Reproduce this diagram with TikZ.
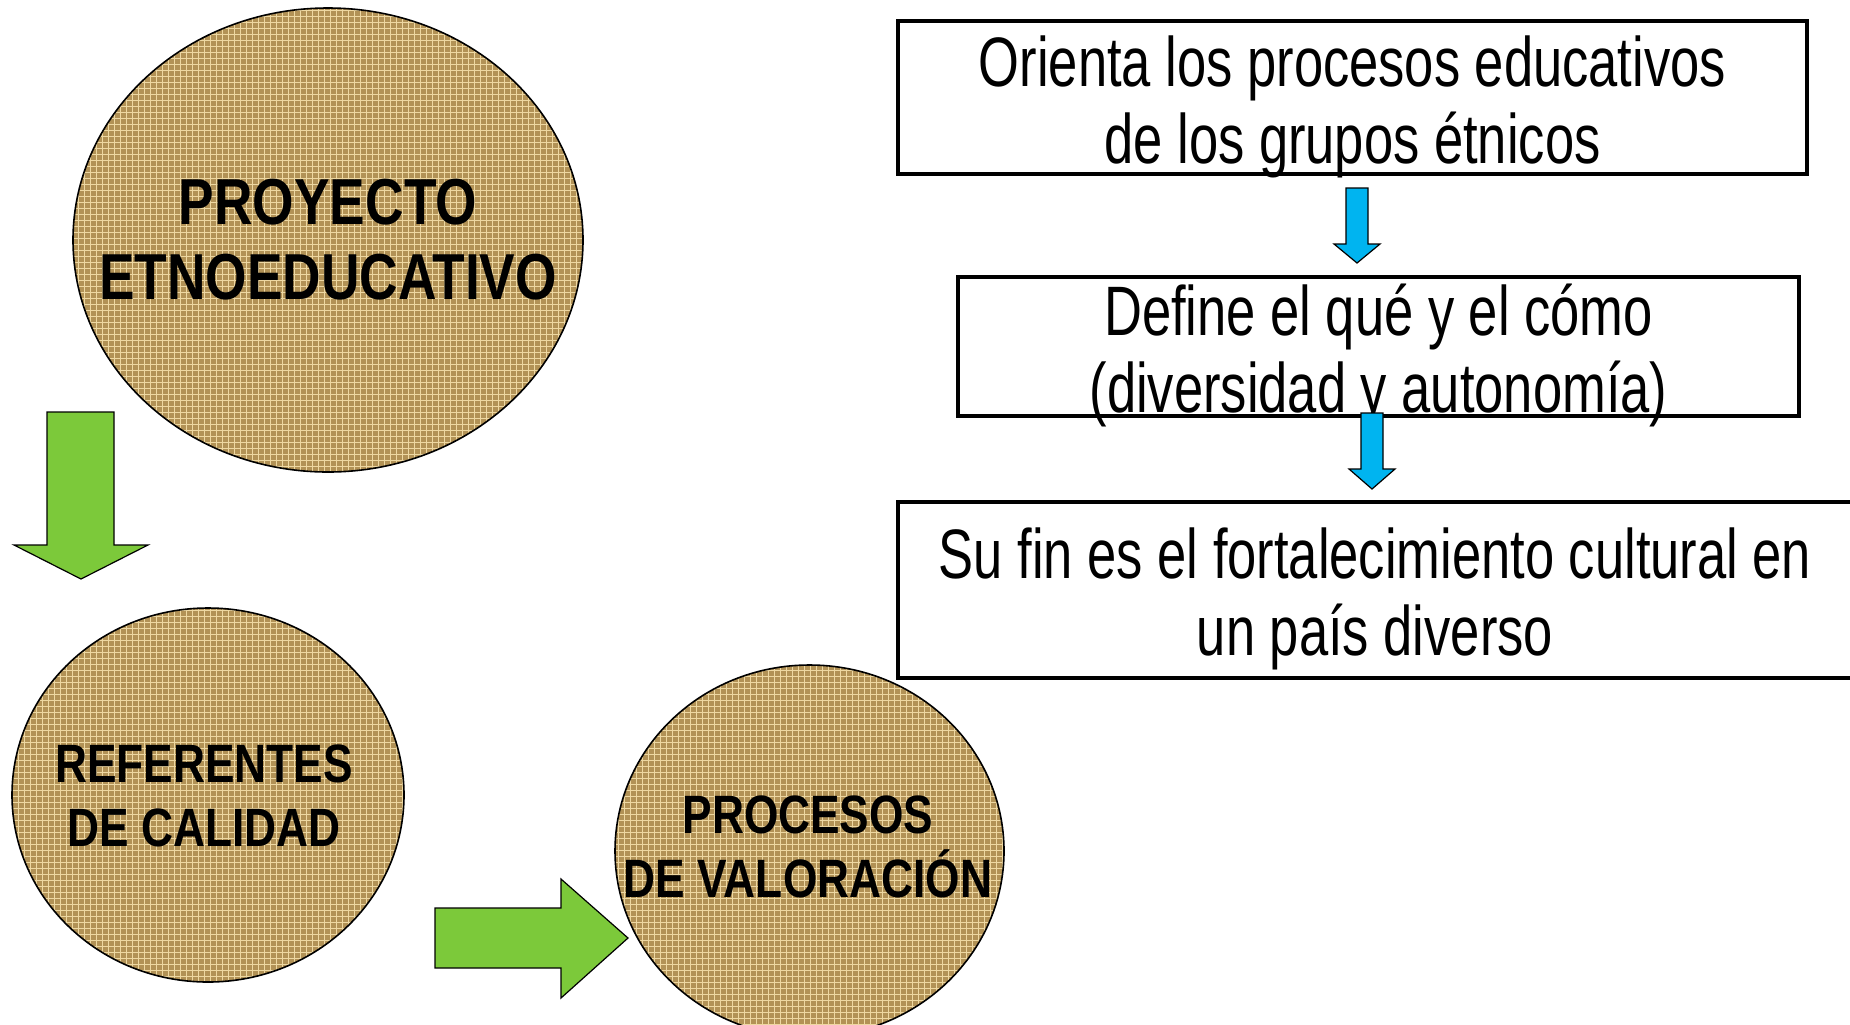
\documentclass[tikz,border=0pt]{standalone}
\usepackage{fontspec}
\setmainfont{Liberation Sans}[FakeStretch=0.82]
\newfontfamily\boxfont{Liberation Sans}[FakeStretch=0.75]
\usepackage{xcolor}
\usetikzlibrary{shapes.geometric, patterns}

\definecolor{burlap}{RGB}{178,146,86}
\definecolor{burlaplight}{RGB}{238,216,162}
\definecolor{arrowgreen}{RGB}{124,201,58}
\definecolor{arrowblue}{RGB}{0,180,240}

\begin{document}
\begin{tikzpicture}[
    x=0.5pt, y=-0.5pt,
    fabric/.style={draw, ellipse, line width=0.8pt, inner sep=0pt,
        preaction={fill=burlap}, pattern=grid, pattern color=burlaplight},
    fabrictext/.style={align=center, inner sep=0pt, font=\bfseries\fontsize{27}{32}\selectfont},
    textbox/.style={draw, line width=1.7pt, inner sep=0pt},
    boxtext/.style={align=center, inner sep=0pt, yshift=-4.5pt, font=\boxfont\fontsize{35}{38.5}\selectfont},
    greenarrow/.style={draw, line width=0.6pt, fill=arrowgreen},
    bluearrow/.style={draw, line width=0.6pt, fill=arrowblue}
]
\useasboundingbox (0,0) rectangle (1850,1024);

% circles
\node[fabric, minimum width=255pt, minimum height=232pt] (proyecto) at (328,240) {};
\node[fabrictext, font=\bfseries\fontsize{32.5}{37.5}\selectfont] (proyectotext) at (proyecto) {PROYECTO\\ETNOEDUCATIVO};
\node[fabric, minimum width=196pt, minimum height=187pt] (referentes) at (208,795) {};
\node[fabrictext] (referentestext) at (204,796) {REFERENTES\\DE CALIDAD};
\node[fabric, minimum width=194.5pt, minimum height=186pt] (procesos) at (809.5,851) {};
\node[fabrictext] (procesostext) at (808,847) {PROCESOS\\DE VALORACIÓN};

% boxes
\node[textbox, minimum width=454.5pt, minimum height=76.5pt] (orienta) at (1352.5,97.5) {};
\node[boxtext] (orientatext) at (orienta) {Orienta los procesos educativos\\de los grupos étnicos};
\node[textbox, minimum width=420.5pt, minimum height=69.5pt] (define) at (1378.5,346.5) {};
\node[boxtext] (definetext) at (define) {Define el qué y el cómo\\(diversidad y autonomía)};
\node[textbox, minimum width=477pt, minimum height=88pt] (fin) at (1375,590) {};
\node[boxtext] (fintext) at (fin) {Su fin es el fortalecimiento cultural en\\un país diverso};

% block arrows
\draw[greenarrow] (47,412) -- (114,412) -- (114,545) -- (148,545) -- (81,579) -- (14,545) -- (47,545) -- cycle;
\draw[greenarrow] (435,908) -- (561,908) -- (561,879) -- (628,938) -- (561,998) -- (561,968) -- (435,968) -- cycle;
\draw[bluearrow] (1346,188) -- (1368,188) -- (1368,244) -- (1380,244) -- (1357,263) -- (1334,244) -- (1346,244) -- cycle;
\draw[bluearrow] (1361,413) -- (1383,413) -- (1383,469) -- (1395,469) -- (1372,489) -- (1349,469) -- (1361,469) -- cycle;

\end{tikzpicture}
\end{document}
